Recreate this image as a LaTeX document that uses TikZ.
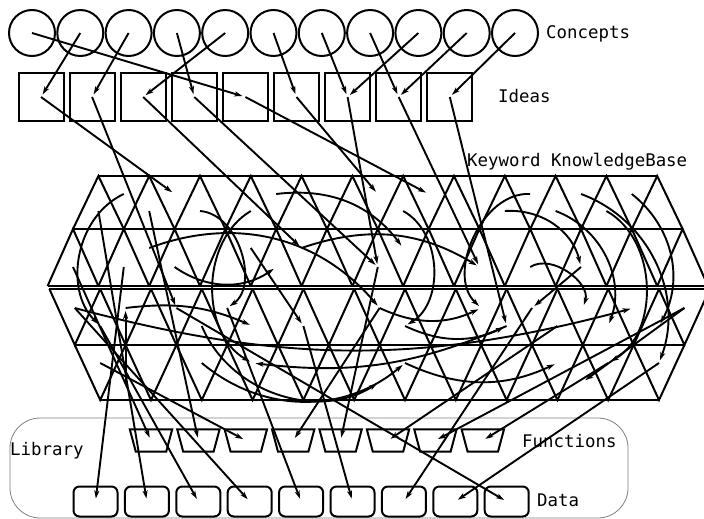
\documentclass[tikz,border=0pt]{standalone}
\usepackage{fontspec}
\setmonofont{DejaVu Sans Mono}
\usetikzlibrary{arrows.meta}

\begin{document}
\begin{tikzpicture}[x=1pt, y=-1pt,
    concept/.style={circle, draw, line width=2pt, minimum size=46pt, inner sep=0pt},
    idea/.style={rectangle, draw, line width=2pt, minimum width=45pt, minimum height=48pt, inner sep=0pt},
    func/.style={rectangle, minimum width=42pt, minimum height=22pt, inner sep=0pt},
    datum/.style={rectangle, rounded corners=6pt, draw, line width=2pt, minimum width=44pt, minimum height=30pt, inner sep=0pt},
    lbl/.style={anchor=west, inner sep=0pt, font=\ttfamily\fontsize{17.4}{20}\selectfont},
    mesh/.style={line width=2pt},
    link/.style={-{Stealth[length=8pt,width=5pt,inset=2pt]}, line width=1.9pt, shorten >=3pt}]
    \useasboundingbox (0,0) rectangle (704,519);

    % Library
    \draw[gray, line width=0.8pt, rounded corners=30pt] (10,418) rectangle (628,518);
    \node[lbl] (libl) at (10,451) {Library};

    % Keyword KnowledgeBase
    \draw[mesh] (98.4,176) -- (657.2,176) (73,229) -- (682.6,229) (47.6,286) -- (708,286);
    \foreach \k in {0,...,11} \draw[mesh] ({73+50.8*\k},229) -- ({98.4+50.8*\k},176) -- ({123.8+50.8*\k},229);
    \foreach \k in {0,...,12} \draw[mesh] ({47.6+50.8*\k},286) -- ({73+50.8*\k},229) -- ({98.4+50.8*\k},286);
    \draw[mesh] (49.4,289) -- (709.8,289) (74.8,345) -- (684.4,345) (100.2,400) -- (659,400);
    \foreach \k in {0,...,12} \draw[mesh] ({49.4+50.8*\k},289) -- ({74.8+50.8*\k},345) -- ({100.2+50.8*\k},289);
    \foreach \k in {0,...,11} \draw[mesh] ({74.8+50.8*\k},345) -- ({100.2+50.8*\k},400) -- ({125.6+50.8*\k},345);
    \node[lbl] (kbl) at (467,162) {Keyword KnowledgeBase};

    \foreach \k in {0,...,11} \coordinate (r1u\k) at ({98.4+50.8*\k},211);
    \foreach \k in {0,...,10} \coordinate (r1d\k) at ({123.8+50.8*\k},194);
    \foreach \k in {0,...,12} \coordinate (r2u\k) at ({73+50.8*\k},267);
    \foreach \k in {0,...,11} \coordinate (r2d\k) at ({98.4+50.8*\k},248);
    \foreach \k in {0,...,12} \coordinate (r3d\k) at ({74.8+50.8*\k},308);
    \foreach \k in {0,...,11} \coordinate (r3u\k) at ({100.2+50.8*\k},326);
    \foreach \k in {0,...,11} \coordinate (r4d\k) at ({100.2+50.8*\k},363);
    \foreach \k in {0,...,10} \coordinate (r4u\k) at ({125.6+50.8*\k},382);

    % Concepts
    \foreach \k in {1,...,11} \node[concept] (c\k) at ({32+48.3*(\k-1)},33) {};
    \node[lbl] (conceptsl) at (546,34) {Concepts};

    % Ideas
    \foreach \k in {1,...,9} \node[idea] (i\k) at ({41+51.1*(\k-1)},97) {};
    \node[lbl] (ideasl) at (498,96) {Ideas};

    % Functions
    \foreach \k in {1,...,8} {
      \node[func] (f\k) at ({151+47.4*(\k-1)},440.5) {};
      \draw[mesh] (f\k.north west) -- (f\k.north east) -- ([xshift=-6pt]f\k.south east)
        -- ([xshift=6pt]f\k.south west) -- cycle;
    }
    \node[lbl] (funcl) at (522,441) {Functions};

    % Data
    \foreach \k in {1,...,9} \node[datum] (d\k) at ({95.5+51.4*(\k-1)},501.5) {};
    \node[lbl] (datal) at (537,500) {Data};

    % links
    \foreach \p/\q in {c1/i5, c2/i1, c3/i2, c4/i4, c5/i3, c6/i6, c7/i7, c8/i8, c9/i7, c10/i8, c11/i9,
        i1/r1d1, i2/r3d2, i3/r2d4, i4/r2u6, i5/r1d6, i6/r1d5, i7/r2u6, i8/r2u8, i9/r3u8,
        r2u0/f1, r1u1/f2, r4d0/f3, r3d6/f4, r2u6/f5, r3u9/f6, r3d12/f7, r4d10/f8,
        r2u1/d1, r1u0/d2, r3u0/d3, r3d0/d4, r3d3/d5, r3u4/d6, r3d9/d7, r4d11/d8, r3d2/d9}
      \draw[link] (\p.center) -- (\q.center);

    \foreach \p/\q/\n in {r1u2/r3d3/70, r1u3/r4d3/-60, r2d1/r3d6/35, r1d3/r2d6/30, r1u6/r3u6/60,
        r1d0/r3u0/-55, r3d1/r3u3/15, r4u0/r3d1/0, r2d3/r3u4/0, r3u6/r3u8/-25, r3d6/r3d8/-25,
        r2u2/r2u4/-35, r1u8/r2u10/40, r1u9/r3u10/45, r1d9/r4d11/45, r1u10/r4d10/60, r1d10/r3u11/40,
        r3d0/r3d11/-15, r4d6/r4d9/-25, r2u9/r3d10/70, r2u10/r3d9/0, r3d12/r4u9/0, r3u2/r4u5/-50,
        r3u8/r4d3/15, r4d2/r4d6/-40, r2d4/r2u8/25, r1d8/r3d8/-70}
      \draw[link] (\p) to[bend left=\n] (\q);
\end{tikzpicture}
\end{document}
